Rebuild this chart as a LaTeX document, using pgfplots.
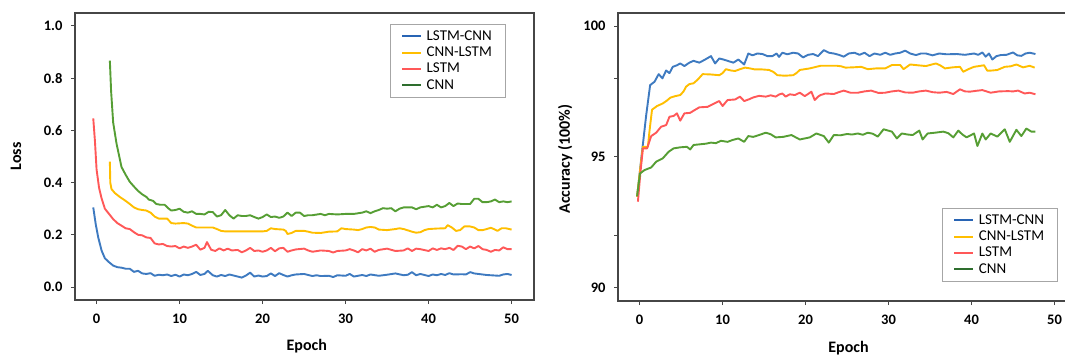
\documentclass[border=0pt]{standalone}
\usepackage{pgfplots}
\pgfplotsset{compat=1.18}
\usepackage{fontspec}
\setmainfont{Carlito}
\definecolor{cblue}{RGB}{62,122,192}
\definecolor{cyellow}{RGB}{255,190,0}
\definecolor{cred}{RGB}{255,88,88}
\definecolor{cgreen}{RGB}{86,158,52}
\definecolor{lgreen}{RGB}{46,110,46}
\definecolor{lblue}{RGB}{40,100,180}
\definecolor{axgray}{RGB}{70,70,70}
\pgfplotsset{
  common/.style={
    scale only axis,
    axis line style={axgray, line width=1.1pt},
    tick style={axgray, line width=1pt},
    tick align=outside,
    major tick length=4pt,
    tick pos=left,
    /pgf/number format/assume math mode=true,
    ticklabel style={font=\bfseries\fontsize{14.5}{14.5}\selectfont},
    xticklabel style={yshift=-6pt},
    yticklabel style={xshift=-5pt},
    label style={font=\bfseries\fontsize{16}{16}\selectfont},
    legend cell align=left,
    legend style={draw=black!35, line width=0.6pt, font=\fontsize{15}{15}\selectfont,
      nodes={inner sep=2.5pt}, inner xsep=11pt, inner ysep=4pt, column sep=2pt},
    legend image code/.code={\draw[#1, line width=2pt] (0pt,0pt) -- (19pt,0pt);},
    every axis plot/.append style={line width=1.9pt, line join=round},
  }
}
\begin{document}
\begin{tikzpicture}
\path[use as bounding box] (0pt,0pt) rectangle (1065pt,356pt);
% ---------------- Left: Loss ----------------
\begin{axis}[common,
  at={(75pt,56pt)}, anchor=south west,
  width=459pt, height=287pt,
  xmin=-2.6, xmax=52.7, ymin=-0.0498, ymax=1.0498,
  xtick={0,10,20,30,40,50},
  ytick={0,0.2,0.4,0.6,0.8,1.0},
  yticklabels={0.0,0.2,0.4,0.6,0.8,1.0},
  xlabel={Epoch}, ylabel={Loss},
  xlabel style={at={(axis description cs:0.505,-0.160)}, anchor=center},
  ylabel style={at={(axis description cs:-0.1285,0.5)}, anchor=center, rotate=0},
  legend style={at={(axis description cs:0.686,0.962)}, anchor=north west},
]
\addplot[cblue, legend image code/.code={\draw[lblue, line width=2pt] (0pt,0pt) -- (19pt,0pt);}] coordinates {
(-0.4,0.305) (-0.1,0.24) (0.2,0.19) (0.6,0.14) (1.0,0.11) (1.5,0.095) (2.0,0.082) (2.5,0.076) (3.0,0.074) (3.5,0.070) (4.0,0.070) (4.5,0.058) (5.0,0.062) (5.5,0.052) (6.0,0.050) (6.5,0.053) (7.0,0.043) (7.5,0.047) (8.0,0.045) (8.5,0.048) (9.0,0.042) (9.5,0.047) (10.0,0.040) (10.5,0.048) (11.0,0.045) (11.5,0.050) (12.0,0.058) (12.5,0.046) (13.0,0.050) (13.4,0.062) (14.0,0.045) (14.5,0.040) (15.0,0.046) (15.5,0.042) (16.0,0.048) (16.5,0.044) (17.0,0.040) (17.5,0.036) (18.0,0.044) (18.5,0.055) (19.0,0.040) (19.5,0.044) (20.0,0.040) (20.5,0.042) (21.0,0.052) (21.5,0.042) (22.0,0.053) (22.5,0.046) (23.0,0.040) (23.5,0.045) (24.0,0.048) (25.0,0.050) (26.0,0.042) (26.5,0.045) (27.0,0.042) (28.0,0.043) (28.5,0.038) (29.0,0.045) (30.0,0.043) (30.5,0.050) (31.0,0.040) (31.5,0.043) (32.0,0.046) (32.5,0.042) (33.0,0.048) (34.0,0.043) (35.0,0.047) (36.0,0.052) (37.0,0.045) (37.5,0.047) (38.0,0.057) (38.5,0.045) (39.0,0.050) (40.0,0.042) (40.5,0.048) (41.0,0.045) (41.5,0.050) (42.0,0.046) (42.5,0.053) (43.0,0.048) (44.0,0.049) (44.5,0.048) (45.0,0.057) (45.5,0.052) (46.0,0.050) (47.0,0.046) (48.0,0.044) (48.5,0.043) (49.0,0.048) (49.5,0.050) (50.0,0.046)
};
\addlegendentry{LSTM-CNN}
\addplot[cyellow] coordinates {
(1.6,0.48) (1.65,0.40) (1.8,0.375) (2.2,0.36) (2.8,0.345) (3.5,0.33) (4.0,0.318) (4.5,0.305) (5.0,0.298) (5.5,0.295) (6.0,0.293) (6.5,0.285) (7.0,0.27) (7.5,0.262) (8.0,0.262) (8.5,0.262) (9.0,0.245) (9.5,0.243) (10.5,0.245) (11.0,0.243) (11.5,0.235) (12.0,0.228) (13.0,0.228) (14.0,0.228) (14.5,0.222) (15.0,0.215) (15.5,0.213) (17.0,0.213) (18.0,0.213) (19.0,0.213) (20.0,0.213) (20.5,0.215) (21.0,0.225) (21.5,0.222) (22.5,0.220) (22.8,0.215) (23.0,0.203) (23.5,0.207) (24.0,0.215) (25.0,0.215) (25.5,0.212) (26.0,0.208) (27.0,0.207) (28.0,0.212) (29.0,0.213) (29.5,0.225) (30.0,0.222) (31.0,0.220) (31.5,0.218) (32.0,0.222) (32.5,0.228) (33.0,0.230) (33.5,0.228) (34.0,0.220) (35.0,0.218) (36.0,0.222) (36.5,0.225) (37.0,0.222) (38.0,0.212) (38.5,0.208) (39.0,0.210) (39.5,0.218) (40.0,0.222) (41.0,0.224) (42.0,0.225) (42.3,0.237) (42.8,0.228) (43.3,0.215) (43.8,0.218) (44.3,0.232) (45.0,0.232) (45.5,0.228) (46.0,0.218) (46.5,0.218) (47.0,0.222) (47.5,0.227) (48.0,0.220) (48.3,0.215) (48.8,0.225) (49.3,0.225) (50.0,0.220)
};
\addlegendentry{CNN-LSTM}
\addplot[cred] coordinates {
(-0.4,0.646) (-0.2,0.56) (0.0,0.45) (0.3,0.38) (0.6,0.34) (1.0,0.30) (1.5,0.28) (2.0,0.26) (2.5,0.245) (3.0,0.235) (3.5,0.225) (4.0,0.222) (4.5,0.21) (5.0,0.20) (5.5,0.198) (6.0,0.19) (6.5,0.188) (7.0,0.167) (7.5,0.163) (8.0,0.165) (8.5,0.157) (9.0,0.155) (9.5,0.157) (10.0,0.148) (10.5,0.155) (11.0,0.150) (11.5,0.155) (12.0,0.162) (12.5,0.143) (13.0,0.150) (13.3,0.172) (13.8,0.143) (14.3,0.138) (14.8,0.148) (15.3,0.140) (15.8,0.147) (16.3,0.140) (17.0,0.142) (17.5,0.133) (18.0,0.140) (18.5,0.150) (19.0,0.138) (19.5,0.140) (20.0,0.135) (20.5,0.140) (21.0,0.150) (21.5,0.137) (22.0,0.148) (22.5,0.150) (23.0,0.135) (23.5,0.140) (24.0,0.144) (25.0,0.147) (25.5,0.140) (26.0,0.135) (27.0,0.140) (28.0,0.138) (28.5,0.132) (29.0,0.138) (30.0,0.140) (30.5,0.145) (31.0,0.140) (31.5,0.133) (32.0,0.145) (32.5,0.140) (33.0,0.147) (33.5,0.135) (34.0,0.142) (35.0,0.147) (36.0,0.138) (37.0,0.140) (37.5,0.148) (38.0,0.138) (38.5,0.147) (39.0,0.145) (40.0,0.138) (40.5,0.148) (41.0,0.142) (41.5,0.148) (42.0,0.145) (42.5,0.150) (43.0,0.142) (43.5,0.158) (44.0,0.155) (44.5,0.145) (45.0,0.155) (45.5,0.148) (46.0,0.157) (46.5,0.145) (47.0,0.142) (47.5,0.135) (48.0,0.142) (48.5,0.140) (49.0,0.152) (49.5,0.145) (50.0,0.145)
};
\addlegendentry{LSTM}
\addplot[cgreen, legend image code/.code={\draw[lgreen, line width=2pt] (0pt,0pt) -- (19pt,0pt);}] coordinates {
(1.6,0.867) (1.75,0.75) (2.0,0.63) (2.4,0.55) (3.0,0.46) (3.5,0.43) (4.0,0.403) (4.5,0.385) (5.0,0.368) (5.5,0.355) (6.0,0.345) (6.3,0.335) (6.8,0.33) (7.2,0.318) (7.7,0.315) (8.2,0.315) (8.7,0.300) (9.0,0.293) (9.5,0.295) (10.0,0.300) (10.5,0.288) (11.0,0.285) (11.5,0.290) (12.0,0.280) (12.5,0.280) (13.0,0.278) (13.5,0.288) (14.0,0.287) (14.5,0.270) (15.0,0.275) (15.5,0.295) (16.0,0.275) (16.5,0.262) (17.0,0.275) (17.5,0.272) (18.0,0.272) (18.5,0.275) (19.0,0.268) (19.5,0.262) (20.0,0.268) (20.5,0.278) (21.0,0.268) (21.5,0.270) (22.0,0.265) (22.5,0.270) (23.0,0.285) (23.5,0.272) (24.0,0.285) (24.5,0.285) (25.0,0.272) (25.5,0.275) (26.0,0.275) (27.0,0.280) (27.5,0.275) (28.0,0.280) (29.0,0.278) (30.0,0.280) (31.0,0.280) (32.0,0.285) (32.5,0.290) (33.0,0.283) (33.5,0.290) (34.0,0.295) (34.5,0.302) (35.0,0.300) (35.5,0.302) (36.0,0.290) (36.5,0.300) (37.0,0.305) (38.0,0.305) (38.5,0.298) (39.0,0.305) (40.0,0.310) (40.5,0.305) (41.0,0.315) (41.5,0.305) (42.0,0.310) (42.5,0.322) (43.0,0.310) (43.5,0.320) (44.0,0.318) (45.0,0.318) (45.5,0.338) (46.0,0.338) (46.5,0.325) (47.0,0.325) (47.5,0.328) (48.0,0.335) (48.5,0.325) (49.0,0.328) (49.5,0.325) (50.0,0.328)
};
\addlegendentry{CNN}
\end{axis}
% ---------------- Right: Accuracy ----------------
\begin{axis}[common,
  at={(618pt,55pt)}, anchor=south west,
  width=452pt, height=288pt,
  xmin=-2.6, xmax=51.86, ymin=89.48, ymax=100.5,
  xtick={0,10,20,30,40,50},
  ytick={90,92,95,98,100},
  yticklabels={90,,95,,100},
  xlabel={Epoch}, ylabel={Accuracy (100\%)},
  xlabel style={at={(axis description cs:0.51,-0.163)}, anchor=center},
  ylabel style={at={(axis description cs:-0.117,0.493)}, anchor=center, rotate=0},
  legend style={at={(axis description cs:0.717,0.323)}, anchor=north west},
]
\addplot[cblue, legend image code/.code={\draw[lblue, line width=2pt] (0pt,0pt) -- (19pt,0pt);}] coordinates {
(-0.3,93.47) (0.3,95.2) (0.8,96.6) (1.27,97.74) (1.8,97.87) (2.3,98.16) (2.75,98.0) (3.2,98.3) (3.6,98.2) (4.0,98.44) (4.5,98.5) (4.9,98.57) (5.4,98.47) (6.0,98.6) (6.5,98.67) (7.2,98.6) (7.9,98.72) (8.6,98.85) (9.1,98.57) (9.6,98.76) (10.1,98.72) (10.6,98.67) (11.3,98.6) (11.9,98.72) (12.6,98.53) (13.1,98.95) (13.6,98.88) (14.2,98.95) (14.8,98.93) (15.4,98.85) (16.0,98.85) (16.5,98.95) (16.8,98.82) (17.2,98.98) (17.8,98.92) (18.5,98.98) (19.1,98.95) (19.7,98.8) (20.3,98.9) (20.9,98.93) (21.5,98.85) (22.2,99.08) (22.8,98.98) (23.4,98.95) (24.0,98.9) (24.6,98.83) (25.2,98.95) (25.9,98.98) (26.5,98.9) (27.1,98.98) (27.7,98.85) (28.3,98.95) (29.0,98.9) (29.6,98.98) (30.2,98.9) (30.8,98.95) (31.4,98.98) (32.0,99.06) (32.6,98.95) (33.3,98.89) (33.9,98.95) (34.5,98.95) (35.3,98.88) (36.1,98.95) (37.0,98.92) (38.2,98.93) (39.2,98.9) (40.3,98.95) (40.8,98.9) (41.3,98.99) (41.7,98.83) (42.1,98.95) (42.5,98.72) (43.0,98.85) (43.5,98.89) (44.2,98.9) (45.0,98.99) (45.5,98.88) (46.0,98.86) (46.5,98.95) (47.0,98.98) (47.7,98.93)
};
\addlegendentry{LSTM-CNN}
\addplot[cyellow] coordinates {
(-0.3,93.47) (0.1,94.6) (0.4,95.38) (1.0,95.38) (1.2,96.0) (1.5,96.8) (2.1,96.94) (2.8,97.04) (3.3,97.15) (3.7,97.26) (4.3,97.32) (4.9,97.36) (5.3,97.5) (5.6,97.68) (6.0,97.78) (6.5,97.81) (7.0,97.95) (7.6,98.16) (8.5,98.15) (9.6,98.12) (10.0,98.2) (10.4,98.35) (11.0,98.3) (11.5,98.28) (12.1,98.35) (12.7,98.41) (13.3,98.38) (13.9,98.34) (14.8,98.34) (15.6,98.32) (16.1,98.25) (16.6,98.12) (17.5,98.1) (18.5,98.12) (18.9,98.2) (19.3,98.32) (20.5,98.38) (21.8,98.48) (22.8,98.48) (23.8,98.48) (24.3,98.46) (24.8,98.41) (25.7,98.42) (26.7,98.44) (27.5,98.35) (28.5,98.38) (29.6,98.38) (30.4,98.51) (31.4,98.51) (31.8,98.35) (32.6,98.53) (33.5,98.5) (34.5,98.47) (35.7,98.57) (36.2,98.5) (36.8,98.38) (37.7,98.42) (38.6,98.44) (39.0,98.25) (39.6,98.35) (40.3,98.44) (41.5,98.5) (41.9,98.29) (42.5,98.3) (43.1,98.32) (44.0,98.44) (44.7,98.46) (45.4,98.53) (46.2,98.42) (47.0,98.48) (47.6,98.41)
};
\addlegendentry{CNN-LSTM}
\addplot[cred] coordinates {
(-0.2,93.28) (0.1,94.4) (0.4,95.32) (0.9,95.32) (1.4,95.79) (2.0,95.92) (2.6,96.15) (3.2,96.21) (3.6,96.53) (4.1,96.56) (4.5,96.66) (4.9,96.38) (5.4,96.66) (6.1,96.68) (6.6,96.78) (7.2,96.89) (8.2,96.91) (9.0,97.04) (9.6,97.13) (10.0,96.94) (10.6,97.17) (11.5,97.19) (12.1,97.3) (12.6,97.13) (13.2,97.2) (13.7,97.27) (14.4,97.33) (15.2,97.3) (15.8,97.35) (16.4,97.3) (16.8,97.38) (17.2,97.42) (17.6,97.3) (18.1,97.39) (18.7,97.36) (19.3,97.45) (19.9,97.32) (20.3,97.4) (20.7,97.49) (21.1,97.17) (21.5,97.3) (21.8,97.36) (22.4,97.42) (23.4,97.4) (24.0,97.47) (24.6,97.53) (25.4,97.45) (26.3,97.45) (27.1,97.5) (27.9,97.53) (28.8,97.44) (29.6,97.45) (30.4,97.5) (31.2,97.53) (32.0,97.46) (32.9,97.45) (33.7,97.5) (34.5,97.53) (35.3,97.47) (36.1,97.45) (37.0,97.48) (37.8,97.4) (38.6,97.58) (39.2,97.5) (39.8,97.49) (40.5,97.52) (41.3,97.55) (42.3,97.45) (43.3,97.5) (44.4,97.51) (45.0,97.5) (45.6,97.53) (46.4,97.42) (47.0,97.45) (47.7,97.39)
};
\addlegendentry{LSTM}
\addplot[cgreen, legend image code/.code={\draw[lgreen, line width=2pt] (0pt,0pt) -- (19pt,0pt);}] coordinates {
(-0.3,93.49) (0.05,94.36) (0.6,94.49) (1.4,94.59) (2.0,94.81) (2.8,94.94) (3.5,95.19) (4.1,95.32) (4.9,95.36) (5.7,95.38) (6.1,95.28) (6.5,95.45) (7.4,95.48) (8.0,95.5) (8.6,95.54) (9.2,95.52) (9.8,95.61) (10.6,95.57) (11.2,95.64) (11.9,95.7) (12.6,95.57) (13.1,95.79) (13.7,95.76) (14.4,95.83) (15.2,95.92) (15.8,95.86) (16.4,95.74) (17.3,95.76) (18.3,95.83) (19.3,95.66) (20.5,95.74) (21.3,95.89) (22.2,95.79) (22.8,95.54) (23.4,95.83) (24.2,95.82) (25.0,95.87) (25.6,95.85) (26.3,95.89) (26.9,95.84) (27.5,95.92) (28.1,95.88) (28.7,95.77) (29.4,96.05) (30.4,95.96) (31.0,95.7) (31.6,95.89) (32.3,95.85) (32.9,95.83) (33.7,96.0) (34.1,95.66) (34.7,95.89) (35.6,95.92) (36.6,95.96) (37.2,95.9) (37.8,95.74) (38.4,96.0) (38.9,95.85) (39.4,95.74) (40.3,95.89) (40.7,95.41) (41.3,95.89) (41.7,95.66) (42.3,95.89) (43.1,95.77) (44.0,96.05) (44.6,95.57) (45.4,96.03) (46.0,95.79) (46.6,96.08) (47.2,95.96) (47.7,95.96)
};
\addlegendentry{CNN}
\end{axis}
\end{tikzpicture}
\end{document}
